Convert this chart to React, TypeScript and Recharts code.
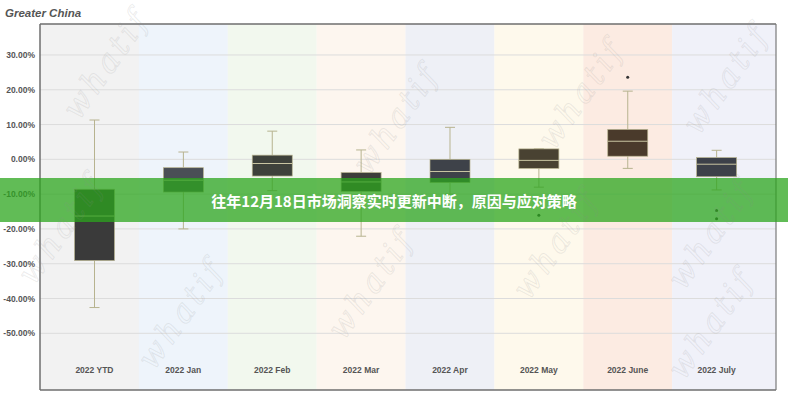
import React from 'react';
import { ComposedChart, Bar, Line, XAxis, YAxis, CartesianGrid } from 'recharts';

// values (percent)
const categories = ['2022 YTD', '2022 Jan', '2022 Feb', '2022 Mar', '2022 Apr', '2022 May', '2022 June', '2022 July'];
const whiskerLow = [-42.6, -20.0, -9.0, -22.1, -10.0, -8.0, -2.6, -8.8];
const q1 = [-29.1, -9.4, -4.8, -9.2, -6.7, -2.6, 0.9, -5.0];
const median = [-16.3, -6.0, -1.2, -6.5, -3.5, -0.3, 5.2, -1.4];
const q3 = [-8.6, -2.4, 1.2, -3.8, 0.0, 3.0, 8.6, 0.5];
const whiskerHigh = [11.3, 2.1, 8.1, 2.7, 9.2, 3.0, 19.6, 2.6];
const outlierA = [null, null, null, null, null, -16.1, 23.6, -14.7];
const outlierB = [null, null, null, null, null, null, null, -17.1];
const yTicks = [30, 20, 10, 0, -10, -20, -30, -40, -50];

const boxColors = ['#3a3a3a', '#4a4f56', '#3e413b', '#3d3d3a', '#3e4249', '#494232', '#4a3a2b', '#3d4149'];
const columnColors = ['#f2f2f2', '#eef4fb', '#f2f8ee', '#fdf6ef', '#eef0f6', '#fef9ec', '#fcebe2', '#f0f1f9'];

const Y_MIN = -66.3;
const Y_MAX = 38.9;
const PAD_LEFT = 10;
const PAD_RIGHT = 15;
const BOX_WIDTH = 40;
const CAP_WIDTH = 10;
const WHISKER = '#b7b38f';

const data = categories.map((name, i) => ({
  name,
  bg: [Y_MIN, Y_MAX],
  range: [whiskerLow[i], whiskerHigh[i]],
  outA: outlierA[i],
  outB: outlierB[i],
}));

// decorative watermark positions
const watermarks = [
  [115, 70], [405, 125], [590, 100], [735, 85],
  [70, 235], [565, 250], [720, 240],
  [190, 320], [380, 290], [720, 330],
];

function ColumnBackground(props: any) {
  const { x, y, width, height, index } = props;
  const left = index === 0 ? x - PAD_LEFT : x;
  const right = index === categories.length - 1 ? x + width + PAD_RIGHT : x + width;
  return <rect x={left} y={y} width={right - left} height={height} fill={columnColors[index]} />;
}

function BoxShape(props: any) {
  const { x, y, width, height, index } = props;
  const lo = whiskerLow[index];
  const hi = whiskerHigh[index];
  // map values through the bar's own pixel extent
  const toPx = (v: number) => (hi === lo ? y : y + ((hi - v) / (hi - lo)) * height);
  const cx = x + width / 2;
  const top = toPx(q3[index]);
  const bottom = toPx(q1[index]);
  return (
    <g>
      <line x1={cx} x2={cx} y1={toPx(hi)} y2={top} stroke={WHISKER} strokeWidth={1} />
      <line x1={cx} x2={cx} y1={bottom} y2={toPx(lo)} stroke={WHISKER} strokeWidth={1} />
      <line x1={cx - CAP_WIDTH / 2} x2={cx + CAP_WIDTH / 2} y1={toPx(hi)} y2={toPx(hi)} stroke={WHISKER} />
      <line x1={cx - CAP_WIDTH / 2} x2={cx + CAP_WIDTH / 2} y1={toPx(lo)} y2={toPx(lo)} stroke={WHISKER} />
      <rect x={cx - BOX_WIDTH / 2} y={top} width={BOX_WIDTH} height={bottom - top} fill={boxColors[index]} stroke={WHISKER} strokeWidth={0.7} />
      <line x1={cx - BOX_WIDTH / 2} x2={cx + BOX_WIDTH / 2} y1={toPx(median[index])} y2={toPx(median[index])} stroke="#c9c5a2" strokeWidth={1} />
    </g>
  );
}

function CategoryTick({ x, y, payload }: any) {
  return (
    <text x={x} y={y - 17} textAnchor="middle" fill="#555" fontSize={8.5} fontWeight={700} fontFamily="'Liberation Sans', Arial, sans-serif">
      {payload.value}
    </text>
  );
}

export default function App() {
  return (
    <div style={{ position: 'absolute', left: 0, top: 0, width: 788, height: 400, background: '#fff', overflow: 'hidden' }}>
      <div style={{ position: 'absolute', left: 5, top: 7, fontFamily: "'Liberation Sans', Arial, sans-serif", fontSize: 11.5, fontWeight: 700, fontStyle: 'italic', color: '#555' }}>
        Greater China
      </div>
      <ComposedChart
        width={788}
        height={400}
        data={data}
        margin={{ top: 23, right: 11, bottom: 9, left: 0 }}
        barCategoryGap={0}
        barGap={0}
      >
        <XAxis xAxisId="bg" dataKey="name" orientation="top" height={1} tick={false} tickLine={false} axisLine={{ stroke: '#6e6e6e', strokeWidth: 1.5 }} padding={{ left: PAD_LEFT, right: PAD_RIGHT }} />
        <XAxis xAxisId="main" dataKey="name" height={1} tickLine={false} tickSize={0} tickMargin={0} axisLine={{ stroke: '#6e6e6e', strokeWidth: 1.5 }} tick={<CategoryTick />} interval={0} padding={{ left: PAD_LEFT, right: PAD_RIGHT }} />
        <YAxis
          yAxisId="l"
          domain={[Y_MIN, Y_MAX]}
          ticks={yTicks}
          allowDataOverflow
          width={40}
          tickSize={3}
          tickMargin={2}
          tickLine={false}
          axisLine={{ stroke: '#6e6e6e', strokeWidth: 1.5 }}
          tick={{ fill: '#555', fontSize: 8.5, fontWeight: 700, fontFamily: "'Liberation Sans', Arial, sans-serif" }}
          tickFormatter={(v: number) => `${v.toFixed(2)}%`}
        />
        <YAxis yAxisId="r" orientation="right" domain={[Y_MIN, Y_MAX]} width={1} tick={false} tickLine={false} axisLine={{ stroke: '#7a7a7a', strokeWidth: 1.2 }} />
        <Bar xAxisId="bg" yAxisId="l" dataKey="bg" shape={<ColumnBackground />} isAnimationActive={false} zIndex={-150} />
        <CartesianGrid xAxisId="main" yAxisId="l" vertical={false} stroke="#dcdcdc" horizontalValues={yTicks} />
        <Bar xAxisId="main" yAxisId="l" dataKey="range" shape={<BoxShape />} isAnimationActive={false} />
        <Line xAxisId="main" yAxisId="l" dataKey="outA" stroke="none" dot={{ r: 1.5, fill: '#333', stroke: 'none' }} activeDot={false} isAnimationActive={false} />
        <Line xAxisId="main" yAxisId="l" dataKey="outB" stroke="none" dot={{ r: 1.5, fill: '#333', stroke: 'none' }} activeDot={false} isAnimationActive={false} />
      </ComposedChart>
      <div
        style={{
          position: 'absolute', left: 0, top: 178, width: 788, height: 44,
          background: 'rgba(44,166,30,0.75)', color: '#fff',
          display: 'flex', alignItems: 'center', justifyContent: 'center',
          fontFamily: "'Noto Sans CJK SC', sans-serif", fontWeight: 700, fontSize: 15,
        }}
      >
        往年12月18日市场洞察实时更新中断，原因与应对策略
      </div>
      <svg width={788} height={400} style={{ position: 'absolute', left: 0, top: 0, pointerEvents: 'none' }}>
        {watermarks.map(([wx, wy], i) => (
          <text
            key={i}
            x={wx}
            y={wy}
            textAnchor="middle"
            transform={`rotate(-55 ${wx} ${wy})`}
            fontFamily="'DejaVu Serif', serif"
            fontStyle="italic"
            fontSize={32}
            letterSpacing={4}
            fill="none"
            stroke="rgba(140,140,140,0.16)"
            strokeWidth={1}
          >
            whatif
          </text>
        ))}
      </svg>
    </div>
  );
}
